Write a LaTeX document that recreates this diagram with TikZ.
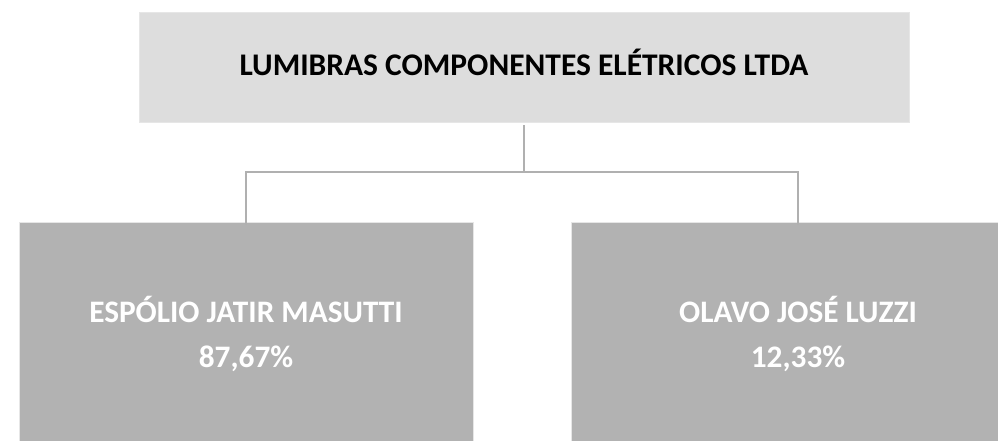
\documentclass[tikz,border=0pt]{standalone}
\usepackage{fontspec}
\setmainfont{Carlito}
\definecolor{topfill}{HTML}{DDDDDD}
\definecolor{botfill}{HTML}{B2B2B2}
\definecolor{linegray}{HTML}{B0B0B0}
\definecolor{edgegray}{HTML}{E6E6E6}
\tikzset{
  topbox/.style={fill=topfill, draw=edgegray, line width=0.8pt, minimum width=770pt, minimum height=110pt, inner sep=0pt, text height=20pt, text depth=4pt, font=\fontsize{31.5}{45}\selectfont\bfseries, text=black},
  ownerbox/.style={fill=botfill, draw=edgegray, line width=0.8pt, minimum width=454pt, minimum height=224pt, inner sep=0pt, align=center, font=\fontsize{31.3}{45}\selectfont\bfseries, text=white},
  conn/.style={draw=linegray, line width=2.5pt}
}
\begin{document}
\begin{tikzpicture}[x=1pt,y=-1pt]
\useasboundingbox (0,0) rectangle (998,440);
\clip (0,0) rectangle (998,440);
\fill[white] (0,0) rectangle (998,440);
\node[topbox] (top) at (524,67) {LUMIBRAS COMPONENTES ELÉTRICOS LTDA};
\node[ownerbox] (left) at (246,334) {ESPÓLIO JATIR MASUTTI\\87,67\%};
\node[ownerbox] (right) at (798,334) {OLAVO JOSÉ LUZZI\\12,33\%};
\coordinate (j) at (524,172);
\draw[conn] ([yshift=-3pt]top.south) -- (j);
\draw[conn] (j) -| ([yshift=-3pt]left.north);
\draw[conn] (j) -| ([yshift=-3pt]right.north);
\end{tikzpicture}
\end{document}
